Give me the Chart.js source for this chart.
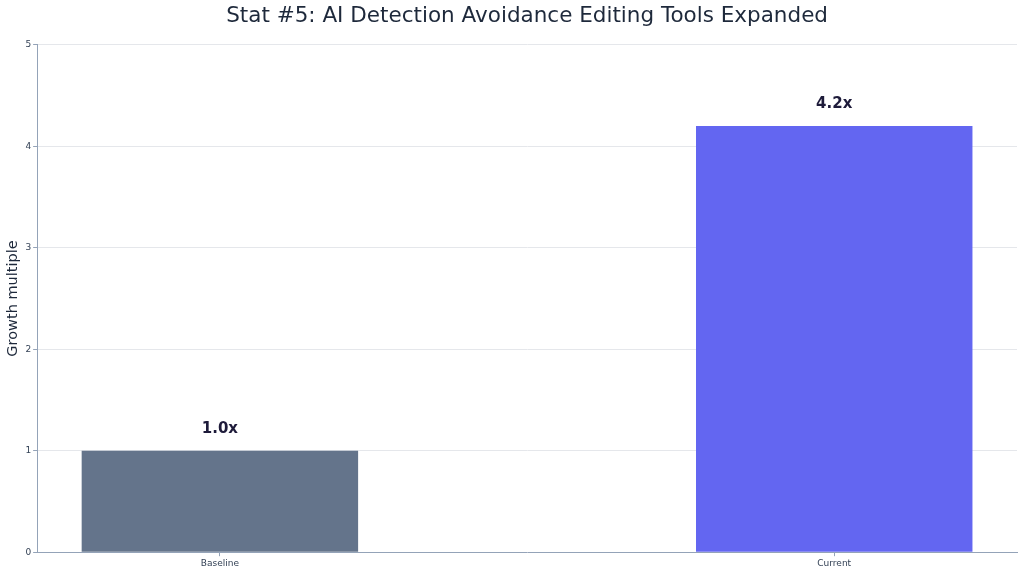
<!DOCTYPE html>
<html>
<head>
<meta charset="utf-8">
<script src="https://cdn.jsdelivr.net/npm/chart.js@4"></script>
<style>
html,body{margin:0;padding:0;background:#fff;}
#wrap{width:1024px;height:573px;}
</style>
</head>
<body>
<div id="wrap"><canvas id="c" width="1024" height="573"></canvas></div>
<script>
const categories = ["Baseline", "Current"];
const values = [1.0, 4.2];
const valueLabels = ["1.0x", "4.2x"];
const barColors = ["#64748b", "#6366f1"];
const yTicks = [0, 1, 2, 3, 4, 5];

const FONT = "'DejaVu Sans', sans-serif";

const labelPlugin = {
  id: 'valueLabels',
  afterDatasetsDraw(chart) {
    const ctx = chart.ctx;
    const meta = chart.getDatasetMeta(0);
    ctx.save();
    ctx.font = "bold 15px " + FONT;
    ctx.fillStyle = "#1e1b3a";
    ctx.textAlign = "center";
    ctx.textBaseline = "middle";
    meta.data.forEach((bar, i) => {
      ctx.fillText(valueLabels[i], bar.x, bar.y - 22);
    });
    ctx.restore();
  }
};

new Chart(document.getElementById('c'), {
  type: 'bar',
  data: {
    datasets: [{
      data: categories.map((c, i) => ({x: i, y: values[i]})),
      backgroundColor: barColors,
      borderColor: barColors,
      borderWidth: 0,
      categoryPercentage: 1.0,
      barPercentage: 0.45
    }]
  },
  options: {
    responsive: false,
    animation: false,
    devicePixelRatio: 1,
    layout: {padding: {left: 5, right: 7, top: 0, bottom: 2}},
    plugins: {
      legend: {display: false},
      tooltip: {enabled: false},
      title: {
        display: true,
        text: "Stat #5: AI Detection Avoidance Editing Tools Expanded",
        font: {family: FONT, size: 21.5, weight: 'normal'},
        color: "#1e293b",
        fullSize: false,
        padding: {top: 4, bottom: 15}
      }
    },
    scales: {
      x: {
        type: 'linear',
        offset: false,
        min: -0.2975,
        max: 1.2975,
        afterBuildTicks(scale) {
          scale.ticks = categories.map((c, i) => ({value: i}));
        },
        ticks: {
          callback: (v) => categories[v],
          font: {family: FONT, size: 9},
          color: "#334155",
          padding: 2,
          maxRotation: 0
        },
        grid: {
          display: true,
          offset: false,
          drawOnChartArea: false,
          drawTicks: true,
          tickLength: 4,
          color: "#94a3b8"
        },
        border: {display: true, color: "#94a3b8", width: 1}
      },
      y: {
        min: 0,
        max: 5,
        afterBuildTicks(scale) {
          scale.ticks = yTicks.map(v => ({value: v}));
        },
        ticks: {
          font: {family: FONT, size: 9},
          color: "#334155",
          padding: 2
        },
        grid: {
          color: (ctx) => ctx.tick && ctx.tick.value === 0 ? "rgba(0,0,0,0)" : "#e5e7eb",
          tickColor: "#94a3b8",
          tickLength: 4,
          drawTicks: true
        },
        border: {display: true, color: "#94a3b8", width: 1},
        title: {
          display: true,
          text: "Growth multiple",
          font: {family: FONT, size: 14.5},
          color: "#1e293b",
          padding: {top: 0, bottom: 1}
        }
      }
    }
  },
  plugins: [labelPlugin]
});
</script>
</body>
</html>
